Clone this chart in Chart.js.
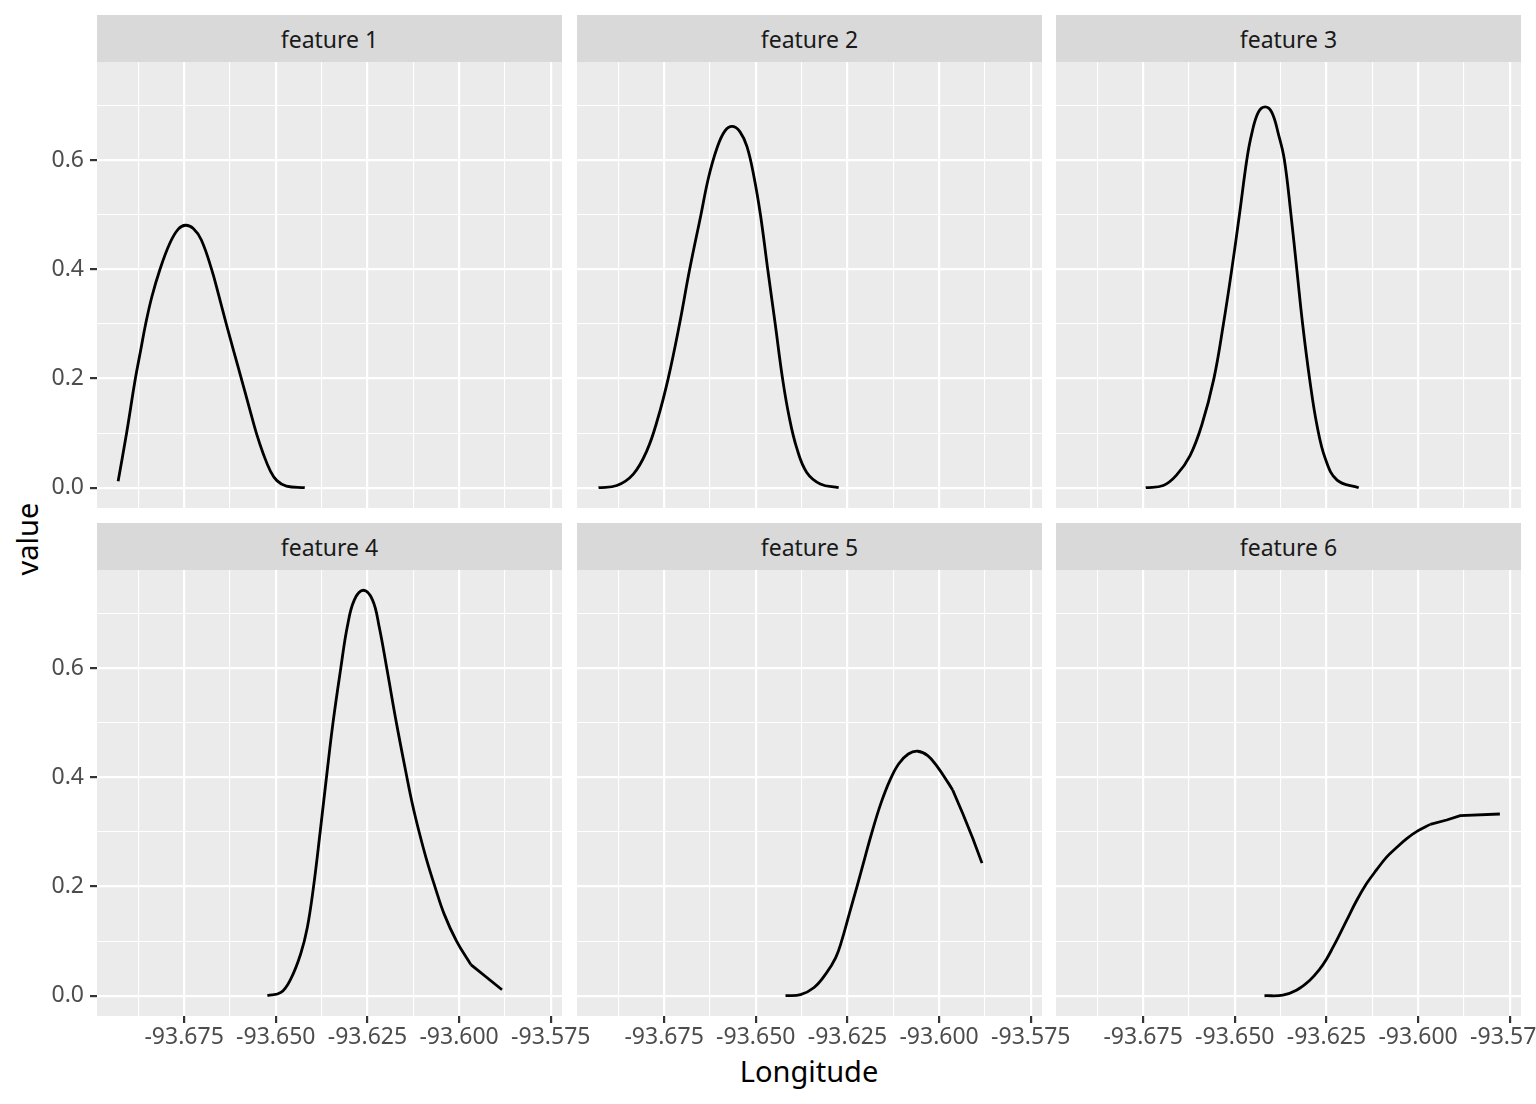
<!DOCTYPE html>
<html>
<head>
<meta charset="utf-8">
<script src="https://cdn.jsdelivr.net/npm/chart.js@4.4.1/dist/chart.umd.min.js"></script>
<style>
  body { margin: 0; width: 1536px; height: 1104px; overflow: hidden; background: #fff; position: relative; font-family: "Noto Sans", sans-serif; }
  canvas { position: absolute; }
  .strip { position: absolute; background: #d9d9d9; color: #1a1a1a; font-size: 23px; display: flex; align-items: center; justify-content: center; }
  .title { position: absolute; color: #000; font-size: 29px; line-height: 34px; text-align: center; }
  #xtitle { left: 509px; top: 1054px; width: 600px; }
  #ytitle { left: -73px; top: 522px; width: 200px; transform: rotate(-90deg); }
</style>
</head>
<body>
<div class="title" id="xtitle">Longitude</div>
<div class="title" id="ytitle">value</div>
<script>
// facet labels
const featureNames = ["feature 1", "feature 2", "feature 3", "feature 4", "feature 5", "feature 6"];

// curves (longitude, value)
const lon1 = [-93.6930, -93.6907, -93.6883, -93.6869, -93.6855, -93.6838, -93.6816, -93.6789, -93.6766, -93.6746, -93.6725, -93.6703, -93.6675, -93.6655, -93.6635, -93.6615, -93.6594, -93.6574, -93.6553, -93.6534, -93.6515, -93.6497, -93.6471, -93.6421];
const val1 = [0.012, 0.100, 0.200, 0.250, 0.300, 0.350, 0.400, 0.448, 0.474, 0.481, 0.475, 0.454, 0.400, 0.351, 0.300, 0.251, 0.200, 0.151, 0.100, 0.062, 0.031, 0.013, 0.003, 0.000];

const lon2 = [-93.6929, -93.6879, -93.6834, -93.6797, -93.6768, -93.6739, -93.6708, -93.6681, -93.6650, -93.6629, -93.6606, -93.6584, -93.6563, -93.6543, -93.6524, -93.6505, -93.6487, -93.6467, -93.6447, -93.6427, -93.6409, -93.6388, -93.6361, -93.6324, -93.6274];
const val2 = [0.000, 0.004, 0.025, 0.068, 0.125, 0.200, 0.300, 0.398, 0.499, 0.568, 0.622, 0.654, 0.662, 0.652, 0.625, 0.570, 0.499, 0.398, 0.300, 0.200, 0.130, 0.072, 0.028, 0.007, 0.000];

const lon3 = [-93.6743, -93.6695, -93.6659, -93.6622, -93.6590, -93.6557, -93.6531, -93.6508, -93.6487, -93.6467, -93.6454, -93.6436, -93.6417, -93.6399, -93.6381, -93.6365, -93.6347, -93.6331, -93.6315, -93.6296, -93.6276, -93.6253, -93.6221, -93.6162];
const val3 = [0.000, 0.004, 0.023, 0.059, 0.115, 0.200, 0.300, 0.401, 0.502, 0.602, 0.648, 0.688, 0.698, 0.688, 0.648, 0.602, 0.502, 0.401, 0.300, 0.200, 0.115, 0.053, 0.014, 0.000];

const lon4 = [-93.6523, -93.6486, -93.6459, -93.6432, -93.6414, -93.6397, -93.6379, -93.6362, -93.6344, -93.6323, -93.6305, -93.6286, -93.6261, -93.6236, -93.6218, -93.6197, -93.6171, -93.6142, -93.6127, -93.6109, -93.6089, -93.6066, -93.6041, -93.6007, -93.5968, -93.5883];
const val4 = [0.000, 0.006, 0.031, 0.077, 0.125, 0.200, 0.300, 0.399, 0.500, 0.599, 0.676, 0.725, 0.743, 0.725, 0.676, 0.599, 0.500, 0.399, 0.350, 0.300, 0.250, 0.200, 0.150, 0.100, 0.057, 0.011];

const lon5 = [-93.6419, -93.6378, -93.6341, -93.6309, -93.6282, -93.6266, -93.6245, -93.6224, -93.6202, -93.6183, -93.6159, -93.6134, -93.6110, -93.6084, -93.6058, -93.6031, -93.6004, -93.5976, -93.5963, -93.5935, -93.5908, -93.5883];
const val5 = [0.000, 0.002, 0.015, 0.040, 0.070, 0.100, 0.150, 0.200, 0.254, 0.300, 0.352, 0.395, 0.425, 0.443, 0.448, 0.440, 0.419, 0.391, 0.377, 0.333, 0.288, 0.243];

const lon6 = [-93.6419, -93.6369, -93.6332, -93.6296, -93.6268, -93.6250, -93.6232, -93.6218, -93.6195, -93.6168, -93.6141, -93.6113, -93.6086, -93.6058, -93.6031, -93.6001, -93.5967, -93.5922, -93.5885, -93.5777];
const val6 = [0.000, 0.001, 0.010, 0.028, 0.049, 0.067, 0.089, 0.107, 0.138, 0.174, 0.205, 0.231, 0.254, 0.272, 0.288, 0.302, 0.314, 0.322, 0.330, 0.333];

// point index after which a curve runs in straight pieces (sparse samples)
const straightFrom = [null, null, null, 24, 18, 16];

// ticks
const xMajorTicks = [-93.675, -93.650, -93.625, -93.600, -93.575];
const xMinorTicks = [-93.6875, -93.6625, -93.6375, -93.6125, -93.5875];
const yMajorTicks = [0.0, 0.2, 0.4, 0.6];
const yMinorTicks = [0.1, 0.3, 0.5, 0.7];

const lons = [lon1, lon2, lon3, lon4, lon5, lon6];
const vals = [val1, val2, val3, val4, val5, val6];

// shared ranges like ggplot (5% expansion)
const allLon = lons.flat(), allVal = vals.flat();
const lonSpan = Math.max(...allLon) - Math.min(...allLon);
const valSpan = Math.max(...allVal) - Math.min(...allVal);
const xMin = Math.min(...allLon) - 0.05 * lonSpan, xMax = Math.max(...allLon) + 0.05 * lonSpan;
const yMin = Math.min(...allVal) - 0.05 * valSpan, yMax = Math.max(...allVal) + 0.05 * valSpan;

const xTicks = [...xMajorTicks, ...xMinorTicks].sort((a, b) => a - b);
const yTicks = [...yMajorTicks, ...yMinorTicks].sort((a, b) => a - b);
const isMajor = (list, v) => list.some(m => Math.abs(m - v) < 1e-6);

// layout
const panelLeft = [97, 577, 1056];
const panelTop = [62, 570];
const panelW = 465, panelH = 446, stripH = 47;
const yAxisW = 90, xAxisH = 56, rightPad = 40;

Chart.defaults.font.family = "Noto Sans";

const panelBg = {
  id: "panelBg",
  beforeDraw(chart) {
    const { ctx, chartArea: a } = chart;
    ctx.save();
    ctx.fillStyle = "#ebebeb";
    ctx.fillRect(a.left, a.top, a.right - a.left, a.bottom - a.top);
    ctx.restore();
  },
};

function zeroPad(ax) {
  ax.paddingLeft = ax.paddingRight = ax.paddingTop = ax.paddingBottom = 0;
}

function lineSet(points, tension) {
  return {
    data: points,
    borderColor: "#000",
    borderWidth: 2.8,
    borderJoinStyle: "round",
    pointRadius: 0,
    fill: false,
    tension: tension,
  };
}

featureNames.forEach((name, i) => {
  const r = Math.floor(i / 3), c = i % 3;
  const left = c === 0, bottom = r === 1;

  let strip = document.createElement("div");
  strip.className = "strip";
  strip.textContent = name;
  strip.style.left = panelLeft[c] + "px";
  strip.style.top = (panelTop[r] - stripH) + "px";
  strip.style.width = panelW + "px";
  strip.style.height = stripH + "px";
  document.body.appendChild(strip);

  let cv = document.createElement("canvas");
  const w = panelW + (left ? yAxisW : 0) + (bottom ? rightPad : 0);
  const h = panelH + (bottom ? xAxisH : 0);
  cv.width = w; cv.height = h;
  cv.style.width = w + "px"; cv.style.height = h + "px";
  cv.style.left = (panelLeft[c] - (left ? yAxisW : 0)) + "px";
  cv.style.top = panelTop[r] + "px";
  document.body.appendChild(cv);

  const pts = lons[i].map((x, k) => ({ x: x, y: vals[i][k] }));
  const k = straightFrom[i];
  const datasets = k === null
    ? [lineSet(pts, 0.4)]
    : [lineSet(pts.slice(0, k + 1), 0.4), lineSet(pts.slice(k), 0)];

  new Chart(cv, {
    type: "line",
    data: { datasets: datasets },
    options: {
      responsive: false,
      animation: false,
      layout: { padding: { left: 0, top: 0, bottom: 0, right: bottom ? rightPad : 0 } },
      plugins: { legend: { display: false }, tooltip: { enabled: false } },
      scales: {
        x: {
          type: "linear",
          min: xMin,
          max: xMax,
          afterBuildTicks: ax => { ax.ticks = xTicks.map(v => ({ value: v })); },
          afterFit: ax => { ax.height = bottom ? xAxisH : 0; zeroPad(ax); },
          border: { display: false },
          grid: {
            color: "#ffffff",
            lineWidth: ctx => (ctx.tick && isMajor(xMajorTicks, ctx.tick.value)) ? 2.2 : 1.1,
            drawTicks: bottom,
            tickLength: 7,
            tickWidth: 2.2,
            tickColor: ctx => (ctx.tick && isMajor(xMajorTicks, ctx.tick.value)) ? "#333333" : "rgba(0,0,0,0)",
          },
          ticks: {
            display: bottom,
            autoSkip: false,
            maxRotation: 0,
            padding: 1,
            color: "#4d4d4d",
            font: { size: 23 },
            callback: v => isMajor(xMajorTicks, v) ? v.toFixed(3) : "",
          },
        },
        y: {
          type: "linear",
          min: yMin,
          max: yMax,
          afterBuildTicks: ax => { ax.ticks = yTicks.map(v => ({ value: v })); },
          afterFit: ax => { ax.width = left ? yAxisW : 0; zeroPad(ax); },
          border: { display: false },
          grid: {
            color: "#ffffff",
            lineWidth: ctx => (ctx.tick && isMajor(yMajorTicks, ctx.tick.value)) ? 2.2 : 1.1,
            drawTicks: left,
            tickLength: 7,
            tickWidth: 2.2,
            tickColor: ctx => (ctx.tick && isMajor(yMajorTicks, ctx.tick.value)) ? "#333333" : "rgba(0,0,0,0)",
          },
          ticks: {
            display: left,
            autoSkip: false,
            padding: 6,
            color: "#4d4d4d",
            font: { size: 23 },
            callback: v => isMajor(yMajorTicks, v) ? v.toFixed(1) : "",
          },
        },
      },
    },
    plugins: [panelBg],
  });
});
</script>
</body>
</html>
